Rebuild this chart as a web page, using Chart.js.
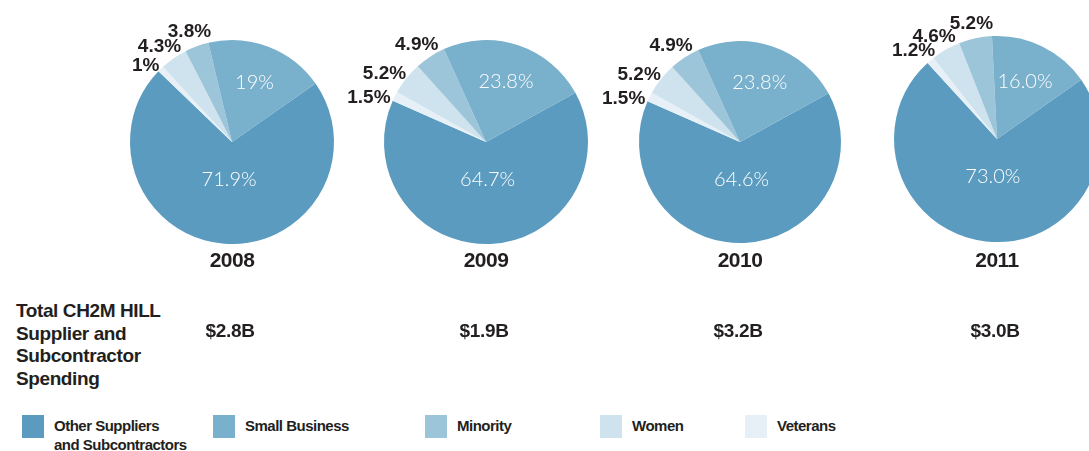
<!DOCTYPE html>
<html>
<head>
<meta charset="utf-8">
<script src="https://cdn.jsdelivr.net/npm/chart.js@4.4.0/dist/chart.umd.min.js"></script>
<style>
  html, body { margin:0; padding:0; background:#fff; width:1089px; height:451px; overflow:hidden; position:relative; font-family:"Liberation Sans", Arial, sans-serif; color:#231f20; }
  .pie { position:absolute; width:300px; height:300px; }
  .year { position:absolute; font-weight:bold; font-size:21px; letter-spacing:-0.5px; transform:translateX(-50%); white-space:nowrap; }
  .total { position:absolute; font-weight:bold; font-size:19px; letter-spacing:-0.3px; transform:translateX(-50%); white-space:nowrap; }
  #title { position:absolute; left:16px; top:300px; font-weight:bold; font-size:19px; line-height:22.7px; letter-spacing:-0.4px; }
  .leg { position:absolute; top:415px; display:flex; align-items:flex-start; }
  .sw { width:22px; height:23px; flex:none; }
  .lt { margin-left:10px; font-weight:bold; font-size:15px; letter-spacing:-0.5px; line-height:19px; margin-top:1px; }
</style>
</head>
<body>
<script>
// ---- data ----
const years = ["2008", "2009", "2010", "2011"];
const totals = ["$2.8B", "$1.9B", "$3.2B", "$3.0B"];
const categories = ["Other Suppliers and Subcontractors", "Small Business", "Minority", "Women", "Veterans"];
const other    = [71.9, 64.7, 64.6, 73.0];
const small    = [19,   23.8, 23.8, 16.0];
const minority = [3.8,  4.9,  4.9,  5.2];
const women    = [4.3,  5.2,  5.2,  4.6];
const veterans = [1,    1.5,  1.5,  1.2];
const valueLabels = [
  ["71.9%", "19%",   "3.8%", "4.3%", "1%"],
  ["64.7%", "23.8%", "4.9%", "5.2%", "1.5%"],
  ["64.6%", "23.8%", "4.9%", "5.2%", "1.5%"],
  ["73.0%", "16.0%", "5.2%", "4.6%", "1.2%"]
];
// ---- styles / layout ----
const colors = ["#5a9bbf", "#79b0cc", "#9dc5d9", "#cfe3ee", "#e6f0f6"];
const centers = [[232,142],[486,142],[740,142],[997,139]];
const radii = [102, 102, 101, 103];
const rotations = [55, 61.2, 61.2, 54.8];

const labelPlugin = {
  id: 'pieLabels',
  afterDatasetsDraw(chart) {
    const ctx = chart.ctx;
    const meta = chart.getDatasetMeta(0);
    const labels = chart.options.plugins.pieLabels.labels;
    const order = chart.options.plugins.pieLabels.order;
    meta.data.forEach((arc, i) => {
      const catIdx = order[i];
      const txt = labels[catIdx];
      const p = arc.getProps(['x','y','startAngle','endAngle','outerRadius'], true);
      const mid = (p.startAngle + p.endAngle) / 2;
      const dx = Math.cos(mid), dy = Math.sin(mid);
      ctx.save();
      if (catIdx <= 1) {
        ctx.font = '300 20px Lato, "Open Sans", sans-serif';
        ctx.fillStyle = '#ffffff';
        ctx.textAlign = 'center';
        ctx.textBaseline = 'middle';
        const rr = catIdx === 0 ? 0.37 : 0.62;
        ctx.fillText(txt, p.x + dx * p.outerRadius * rr, p.y + dy * p.outerRadius * rr);
      } else {
        ctx.font = 'bold 19px "Liberation Sans", Arial, sans-serif';
        ctx.fillStyle = '#231f20';
        ctx.textAlign = 'center';
        ctx.textBaseline = 'middle';
        const w = ctx.measureText(txt).width, h = 16;
        const d = p.outerRadius + 6 + (w/2) * Math.abs(dx) + (h/2) * Math.abs(dy);
        const yOff = 9 + (Math.abs(dx) - 0.55) * 17;
        ctx.fillText(txt, p.x + dx * d, p.y + dy * d + yOff);
      }
      ctx.restore();
    });
  }
};

years.forEach((yr, k) => {
  const [cx, cy] = centers[k];
  const cv = document.createElement('canvas');
  cv.className = 'pie';
  cv.width = 300; cv.height = 300;
  cv.style.left = (cx - 150) + 'px';
  cv.style.top = (cy - 150) + 'px';
  document.body.appendChild(cv);
  // clockwise order: Other, Veterans, Women, Minority, Small Business
  const order = [0, 4, 3, 2, 1];
  const series = [other, small, minority, women, veterans];
  new Chart(cv, {
    type: 'pie',
    data: {
      labels: order.map(i => categories[i]),
      datasets: [{
        data: order.map(i => series[i][k]),
        backgroundColor: order.map(i => colors[i]),
        borderWidth: 0
      }]
    },
    options: {
      responsive: false,
      animation: false,
      rotation: rotations[k],
      layout: { padding: 150 - radii[k] },
      plugins: {
        legend: { display: false },
        tooltip: { enabled: false },
        pieLabels: { labels: valueLabels[k], order: order }
      }
    },
    plugins: [labelPlugin]
  });
  const y = document.createElement('div');
  y.className = 'year'; y.textContent = yr;
  y.style.left = cx + 'px'; y.style.top = '248px';
  document.body.appendChild(y);
  const t = document.createElement('div');
  t.className = 'total'; t.textContent = totals[k];
  t.style.left = (cx - 2) + 'px'; t.style.top = '320px';
  document.body.appendChild(t);
});

const title = document.createElement('div');
title.id = 'title';
title.innerHTML = 'Total CH2M HILL<br>Supplier and<br>Subcontractor<br>Spending';
document.body.appendChild(title);

const legendX = [22, 213, 425, 600, 745];
const legendText = ["Other Suppliers<br>and Subcontractors", "Small Business", "Minority", "Women", "Veterans"];
categories.forEach((c, i) => {
  const d = document.createElement('div');
  d.className = 'leg';
  d.style.left = legendX[i] + 'px';
  d.innerHTML = '<div class="sw" style="background:' + colors[i] + '"></div><div class="lt">' + legendText[i] + '</div>';
  document.body.appendChild(d);
});
</script>
</body>
</html>
